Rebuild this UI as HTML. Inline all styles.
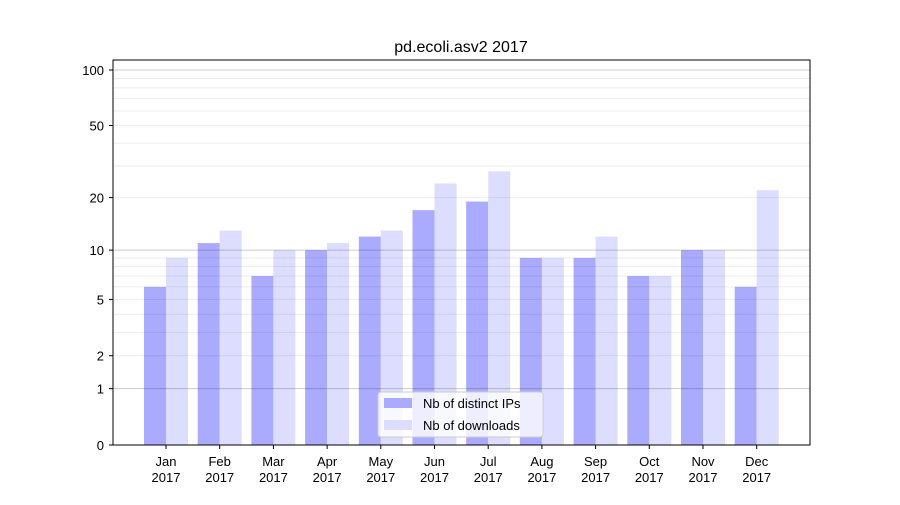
<!DOCTYPE html>
<html><head><meta charset="utf-8"><style>
body{margin:0;background:#fff;}
svg text{font-family:"Liberation Sans","DejaVu Sans",sans-serif;}
</style></head><body>
<svg id="chart" width="900" height="500" xmlns="http://www.w3.org/2000/svg">
<rect width="900" height="500" fill="#fff"/>
<text x="461" y="52" text-anchor="middle" font-size="16">pd.ecoli.asv2 2017</text>
<g id="bars"></g>
<g id="grid"></g>
<rect x="113" y="60" width="697" height="385" fill="none" stroke="#000" stroke-width="1"/>
<g id="axes"></g>
<g>
<rect x="378" y="392" width="165" height="45" rx="3" fill="#fff" fill-opacity="0.8" stroke="#ccc"/>
<rect x="384" y="398" width="28" height="10" fill="#aaaaff"/>
<text x="423" y="408" font-size="13">Nb of distinct IPs</text>
<rect x="384" y="420" width="28" height="10" fill="#ddddff"/>
<text x="423" y="430" font-size="13">Nb of downloads</text>
</g>
</svg>
<script>
const months = ["Jan","Feb","Mar","Apr","May","Jun","Jul","Aug","Sep","Oct","Nov","Dec"];
const ips = [6,11,7,10,12,17,19,9,9,7,10,6];
const downloads = [9,13,10,11,13,24,28,9,12,7,10,22];
const yTicks = [0,1,2,5,10,20,50,100];
const NS="http://www.w3.org/2000/svg";
function y(v){return 445-187.1*Math.log10(1+v);}
function xc(i){return 166+i*53.7;}
function mk(tag,attrs,parent){const e=document.createElementNS(NS,tag);for(const k in attrs)e.setAttribute(k,attrs[k]);parent.appendChild(e);return e;}
const grid=document.getElementById('grid'),bars=document.getElementById('bars'),axes=document.getElementById('axes');
[2,3,4,5,6,7,8,9,20,30,40,50,60,70,80,90].forEach(v=>{
  const l=mk('line',{x1:113,x2:810,y1:y(v),y2:y(v),stroke:'rgba(0,0,0,0.07)','stroke-width':1},grid);
  
  
});
[1,10,100].forEach(v=>{
  const l=mk('line',{x1:113,x2:810,y1:y(v),y2:y(v),stroke:'rgba(0,0,0,0.2)','stroke-width':1},grid);
  
  
});
months.forEach((m,i)=>{
  const b1=mk('rect',{x:xc(i)-22,y:y(ips[i]),width:22,height:445-y(ips[i]),fill:'#aaaaff'},bars);
  
  
  const b2=mk('rect',{x:xc(i),y:y(downloads[i]),width:22,height:445-y(downloads[i]),fill:'#ddddff'},bars);
  
  
  mk('line',{x1:xc(i),x2:xc(i),y1:445,y2:449,stroke:'#000'},axes);
  const t=mk('text',{x:xc(i),y:466,'text-anchor':'middle','font-size':13},axes);
  t.textContent=m;
  
  
  const t2=mk('text',{x:xc(i),y:482,'text-anchor':'middle','font-size':13},axes);
  t2.textContent='2017';
  
  
});
yTicks.forEach(v=>{
  mk('line',{x1:109,x2:113,y1:y(v),y2:y(v),stroke:'#000'},axes);
  const t=mk('text',{x:104,y:y(v)+5,'text-anchor':'end','font-size':13},axes);
  t.textContent=v;
  
  
});
</script>
</body></html>
